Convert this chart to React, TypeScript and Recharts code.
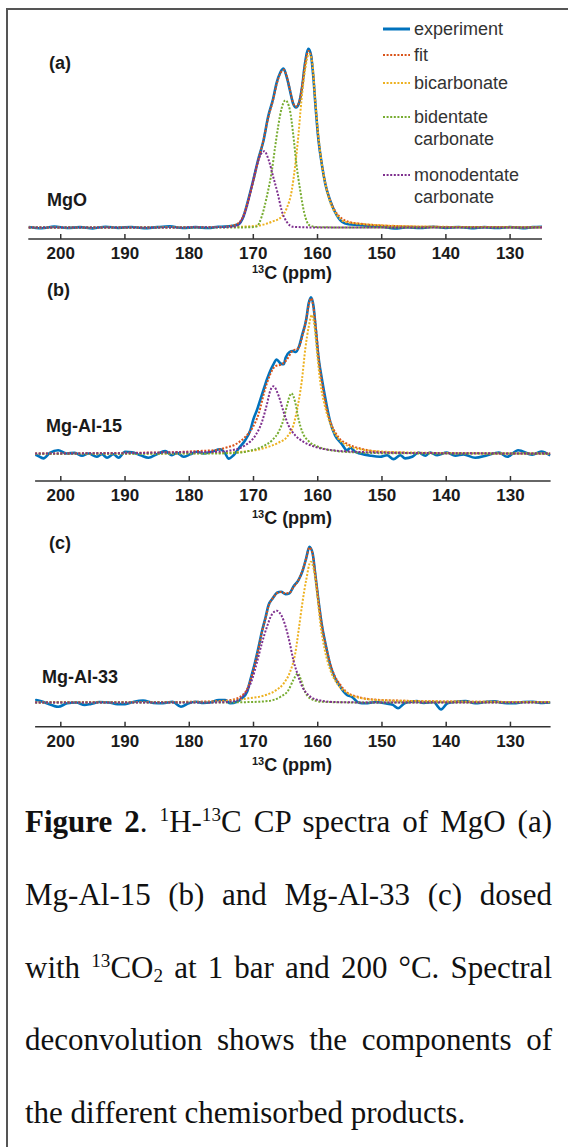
import { Line, LineChart, XAxis, YAxis } from 'recharts'

// [ppm, intensity] pairs; intensity is relative, tallest peak of each panel = 100
type Pt = [number, number]

const ppmTicks = [200, 190, 180, 170, 160, 150, 140, 130]

const seriesNames = ['experiment', 'fit', 'bicarbonate', 'bidentate', 'monodentate']
const seriesColors = ['#0072BD', '#D95319', '#EDB120', '#77AC30', '#7E2F8E']

// (a) MgO
const mgoExperiment: Pt[] = [
  [205, 0.3], [203, -0.4], [201, 0.5], [199, -0.3], [197, 0.2], [195, -0.5], [193, 0.4],
  [191, -0.2], [189, 0.3], [187, -0.4], [185, 0.2], [183, 0.6], [181, -0.3], [179, 0.2],
  [177, -0.3], [175.5, 0.4], [174.4, 0.5], [173.2, 1.0], [172.3, 1.8], [171.55, 6],
  [170.8, 15.3], [170.0, 26.5], [169.2, 38.5], [168.4, 48.7], [167.7, 61.7], [166.9, 72],
  [166.4, 80.3], [165.8, 86.5], [165.3, 88.7], [164.8, 84], [164.3, 76.6], [163.8, 69.2],
  [163.35, 67], [162.9, 69.2], [162.4, 78.4], [161.95, 91.5], [161.4, 99.8], [161.0, 96],
  [160.65, 84], [160.3, 67.3], [159.9, 50.6], [159.35, 35.8], [158.8, 24.6], [158.05, 15.3],
  [157.3, 8.8], [156.2, 3.2], [155.2, 1.8], [153.5, 1.4], [152, 0.8], [150, 0.5], [148, -0.6],
  [146, 0.2], [144, -0.3], [142, 0.4], [140, -0.2], [138, 0.3], [136, -0.4], [134, 0.2],
  [132, -0.3], [130, 0.3], [128, -0.4], [126.5, 0.2], [125, 0.4],
]
const mgoFit: Pt[] = [
  [205, 0], [180, 0.1], [175, 0.3], [173.5, 0.9], [172.3, 2.5], [171.55, 6.5], [170.8, 15],
  [170.0, 26], [169.2, 38], [168.4, 49], [167.7, 61], [166.9, 71.5], [166.4, 79.5], [165.8, 86],
  [165.3, 88], [164.8, 84.5], [164.3, 77], [163.8, 69.5], [163.35, 67.5], [162.9, 69.5],
  [162.4, 79], [161.95, 91], [161.4, 98.5], [161.0, 96], [160.65, 85], [160.3, 68], [159.9, 51],
  [159.35, 36], [158.8, 25], [158.05, 15.5], [157.3, 9.5], [156.2, 5], [155.2, 3.2], [153.5, 2.2],
  [152, 1.6], [150, 1.1], [147, 0.7], [143, 0.4], [138, 0.3], [130, 0.2], [125, 0.1],
]
const mgoBicarbonate: Pt[] = [
  [205, 0], [185, 0.1], [176, 0.3], [172.5, 0.4], [169.2, 1.1], [167.1, 3.2], [165.6, 6],
  [164.8, 10.7], [164.0, 20.9], [163.5, 33.9], [163.0, 50.6], [162.5, 71], [161.95, 87.7],
  [161.3, 97], [160.8, 91.5], [160.4, 72.9], [159.9, 52.5], [159.35, 35.8], [158.8, 24.6],
  [158.05, 14.4], [157.0, 7], [155.7, 3.2], [152.6, 1.8], [150, 1.2], [147, 0.8], [143, 0.5],
  [138, 0.3], [130, 0.2], [125, 0.1],
]
const mgoBidentate: Pt[] = [
  [205, 0], [175, 0], [170.5, 0.1], [169.5, 0.5], [168.7, 6], [167.9, 17.2], [167.1, 32],
  [166.6, 45], [166.1, 57.1], [165.6, 66.4], [165.0, 71], [164.3, 65.5], [163.8, 52.5],
  [163.3, 35.8], [162.7, 20.9], [162.05, 7.9], [161.2, 1.1], [159.9, 0.2], [155, 0], [125, 0],
]
const mgoMonodentate: Pt[] = [
  [205, 0], [175, 0.1], [172.85, 0.5], [171.8, 4.2], [171.0, 11.6], [170.25, 22.7],
  [169.5, 33.9], [168.8, 41], [168.3, 42.6], [167.6, 37.6], [166.9, 28.3], [166.2, 19],
  [165.6, 9.7], [164.8, 3.2], [163.8, 0.4], [160, 0], [125, 0],
]

// (b) Mg-Al-15
const al15Experiment: Pt[] = [
  [204, -0.5], [203.75, -0.8], [202.7, -2.8], [201.7, 0.7], [200.4, 2.4], [199.1, 0.3],
  [197.8, 0.7], [196.7, -1.1], [195.7, 0.3], [194.4, -1.8], [193.6, -0.2], [192.8, -2.4],
  [191.8, -0.2], [191.0, -2.4], [190.0, 1.4], [188.9, 1.0], [187.6, -0.8], [186.35, -2.4],
  [185.05, -0.2], [183.75, 1.8], [182.7, -0.8], [181.9, 0.7], [180.9, -1.8], [179.85, -0.2],
  [178.8, 1.4], [177.8, 0.3], [176.5, 1.4], [175.2, 3.0], [174.4, 0.3], [173.9, -3],
  [173.1, -0.8], [172.3, 3.5], [171.3, 8.7], [170.5, 15], [170.0, 22.3], [169.5, 27.5],
  [169.0, 33.8], [168.4, 41.3], [167.9, 47.5], [167.4, 52.8], [166.9, 57], [166.4, 60],
  [165.8, 57.5], [165.3, 57], [165.0, 61.2], [164.4, 64.8], [163.9, 65.4], [163.4, 64.8],
  [162.9, 68.6], [162.4, 76], [161.8, 85.4], [161.4, 95.9], [161.05, 99.6], [160.65, 93.7],
  [160.3, 79], [159.9, 62.1], [159.35, 47.5], [158.7, 32.8], [158.05, 20.2], [157.3, 11.8],
  [156.3, 6.6], [155.45, 2.4], [154.9, 3.9], [154.2, 1.4], [153.4, 0.3], [151.8, -1.1],
  [150.3, -1.8], [149.2, -0.8], [148.2, -3.3], [147.15, -0.8], [146.4, -2.8], [145.3, -1.8],
  [144.3, 0.9], [143.25, -1.1], [142.5, 0.9], [141.4, -0.8], [139.9, 0.9], [138.6, -1.1],
  [137.3, -0.3], [135.5, -2.4], [133.6, -0.8], [131.8, 0.9], [130.5, -1.8], [128.8, 2.4],
  [126.6, -0.5], [125.2, 1.6], [123.8, -1.0],
]
const al15Fit: Pt[] = [
  [204, 0.3], [195, 0.5], [188, 0.8], [182, 1.2], [178, 2], [176, 2.4], [174.4, 3.9],
  [172.85, 6], [171.3, 10.8], [170.25, 16], [169.2, 25.5], [168.2, 41.2], [167.4, 50.6],
  [166.6, 55.8], [165.6, 57], [164.8, 60], [164.0, 65.3], [163.0, 67.4], [162.4, 74.9],
  [161.8, 85.4], [161.3, 96.7], [161.0, 99], [160.65, 92.6], [160.2, 76.9], [159.8, 59],
  [159.25, 43.3], [158.6, 28.6], [157.8, 18.1], [156.8, 10.8], [155.2, 6], [153.4, 3.5],
  [151.4, 1.8], [148.7, 0.9], [145, 0.6], [140, 0.5], [130, 0.3], [123.8, 0.3],
]
const al15Bicarbonate: Pt[] = [
  [204, 0.1], [185, 0.3], [176, 0.6], [170.8, 1.8], [168.2, 3.9], [166.1, 7.2], [164.8, 10.8],
  [163.8, 18.1], [163.0, 32.8], [162.45, 47.5], [161.95, 66.4], [161.4, 81], [160.9, 88.4],
  [160.5, 81], [160.1, 64.3], [159.6, 45.4], [158.9, 30.7], [158.05, 19.2], [157.0, 10.8],
  [155.45, 5.5], [153.1, 2.8], [150, 1.5], [145, 0.9], [135, 0.4], [123.8, 0.2],
]
const al15Bidentate: Pt[] = [
  [204, 0.1], [185, 0.2], [176, 0.3], [173.4, 0.5], [170.8, 1.8], [168.7, 4.5], [167.1, 8.7],
  [166.1, 14], [165.3, 22.3], [164.8, 30.7], [164.1, 38.5], [163.5, 32.8], [163.0, 22.3],
  [162.4, 14], [161.4, 8.1], [159.9, 4.5], [157.3, 2], [153.1, 0.8], [150, 0.5], [140, 0.3],
  [123.8, 0.2],
]
const al15Monodentate: Pt[] = [
  [204, 0.3], [190, 0.5], [182, 1], [176, 1.3], [173.4, 2.4], [171.3, 5.5], [169.7, 11.8],
  [168.7, 20.2], [167.9, 31.8], [167.4, 40.1], [166.9, 43], [166.1, 37.1], [165.3, 26.5],
  [164.55, 18.1], [163.5, 11.8], [162.2, 7.7], [160.4, 4.5], [157.8, 2.4], [154.2, 1.4],
  [150, 0.9], [140, 0.5], [123.8, 0.3],
]

// (c) Mg-Al-33
const al33Experiment: Pt[] = [
  [204, 1.2], [203.85, 1.6], [202.5, 0], [200.4, -2.7], [199, -0.5], [197.6, 0], [196.3, -1.5],
  [195.4, -1], [194, 0.3], [192.5, 0], [191.2, -1], [190, -1], [188.6, 0.5], [187.2, 1.2],
  [185.6, -0.3], [184.1, -0.5], [182.6, 0.5], [181.3, -2.7], [180.1, -0.5], [179, 0.5],
  [177.8, -0.3], [176.75, 0], [175.4, 1.6], [174.4, 1.6], [173.6, -0.5], [172.6, 0.5],
  [171.8, 2.7], [171.0, 6.9], [170.5, 14.4], [169.8, 25.2], [169.2, 35.8], [168.7, 45.4],
  [168.1, 55.1], [167.65, 62.6], [167.0, 66.9], [166.35, 70.5], [165.7, 71.1], [165.0, 69.6],
  [164.4, 70.1], [163.8, 74.3], [163.0, 78.6], [162.4, 84], [161.8, 92.6], [161.3, 100],
  [160.8, 95.8], [160.4, 82.9], [159.9, 65.8], [159.4, 50.8], [158.7, 35.8], [158.05, 24.1],
  [157.4, 16.6], [156.5, 10.1], [155.45, 4.8], [154.7, 3.7], [153.6, -0.1], [152.6, -0.5],
  [151, 0.3], [149.5, -0.5], [148.3, -1.5], [147.5, -3.7], [146.5, -0.5], [145.5, 0.5],
  [144.6, 1.0], [143.5, -0.3], [142, 0.3], [140.8, -4.4], [139.8, -0.5], [138.5, 0.5],
  [137, 1.0], [135.5, -0.5], [134, 0.3], [132.5, 0.8], [131, -0.3], [129.5, -0.5], [128, 0.3],
  [126.5, 0.5], [125, -0.3], [123.8, 0],
]
const al33Fit: Pt[] = [
  [204, 0.2], [185, 0.3], [178, 0.6], [175, 1.0], [173.6, 1.6], [172.6, 2.6], [171.8, 4.5],
  [171.0, 8.5], [170.5, 14], [169.8, 24.5], [169.2, 35], [168.7, 45], [168.1, 54.5],
  [167.65, 62], [167.0, 67], [166.35, 70.2], [165.7, 71], [165.0, 70], [164.4, 70.5],
  [163.8, 74], [163.0, 78.6], [162.4, 84.5], [161.8, 92.5], [161.3, 99.5], [160.8, 95.5],
  [160.4, 83], [159.9, 66], [159.4, 51], [158.7, 36], [158.05, 25], [157.4, 17.5],
  [156.5, 11.5], [155.45, 6.5], [153.6, 3.5], [151.5, 2], [148, 1.3], [144, 0.9], [138, 0.6],
  [130, 0.4], [123.8, 0.3],
]
const al33Bicarbonate: Pt[] = [
  [204, 0.1], [185, 0.2], [176, 0.5], [170.8, 2.7], [168.1, 4.8], [166.6, 7.6], [165.3, 12.3],
  [164.3, 19.8], [163.5, 31.6], [162.9, 48.7], [162.4, 63.7], [161.8, 78.6], [161.1, 90.4],
  [160.55, 84], [160.1, 70.1], [159.6, 50.8], [158.9, 33.7], [158.05, 20.9], [157.0, 12.3],
  [155.45, 6.3], [153.1, 2.7], [150, 1.5], [145, 1], [135, 0.5], [123.8, 0.3],
]
const al33Bidentate: Pt[] = [
  [204, 0], [176, 0], [170.8, 0.3], [167.65, 1], [165.8, 3.7], [164.55, 8], [163.8, 14.4],
  [163.1, 18.7], [162.6, 14.4], [162.1, 8], [161.2, 2.7], [159.4, 0.5], [155, 0.1], [123.8, 0],
]
const al33Monodentate: Pt[] = [
  [204, 0], [176, 0.1], [174.4, 0.3], [172.85, 1], [171.3, 5.9], [170.25, 14.4], [169.5, 25.2],
  [168.7, 38], [167.9, 48.7], [167.1, 56.8], [166.35, 58.9], [165.7, 56.2], [165.0, 48.7],
  [164.4, 39], [163.8, 27.3], [163.1, 17.7], [162.4, 10.1], [161.45, 4.8], [159.9, 1.6],
  [157.3, 0.3], [150, 0], [123.8, 0],
]

// layout of the three stacked panels, in page pixels
const panels = [
  {
    tag: '(a)', sample: 'MgO',
    curves: [mgoExperiment, mgoFit, mgoBicarbonate, mgoBidentate, mgoMonodentate],
    top: 15, bottom: 239, left: 28.3, right: 542,
    xDomain: [125.03, 205.05], yDomain: [-6.42, 118.6],
    tagAt: [49, 63], sampleAt: [47, 200], titleY: 273,
  },
  {
    tag: '(b)', sample: 'Mg-Al-15',
    curves: [al15Experiment, al15Fit, al15Bicarbonate, al15Bidentate, al15Monodentate],
    top: 286, bottom: 481, left: 35.1, right: 550.6,
    xDomain: [123.75, 204.0], yDomain: [-17.2, 106.8],
    tagAt: [47, 290], sampleAt: [46, 426], titleY: 518,
  },
  {
    tag: '(c)', sample: 'Mg-Al-33',
    curves: [al33Experiment, al33Fit, al33Bicarbonate, al33Bidentate, al33Monodentate],
    top: 536, bottom: 726.7, left: 35.1, right: 550.6,
    xDomain: [123.75, 204.0], yDomain: [-15.5, 106.9],
    tagAt: [49, 543], sampleAt: [42, 677], titleY: 765,
  },
]

const sans = '"Liberation Sans", Arial, sans-serif'
const serif = '"Liberation Serif", "Times New Roman", serif'
const inkColor = '#1a1a1a'

const toRows = (pts: Pt[]) => pts.map(([ppm, i]) => ({ ppm, i }))

// MATLAB-style inward tick with a bold label under the axis line
function PpmTick(props: any) {
  const { x, y, payload } = props
  return (
    <g>
      <line x1={x} x2={x} y1={y} y2={y - 5} stroke="#333" strokeWidth={1.5} />
      <text
        x={x}
        y={y + 14.5}
        textAnchor="middle"
        dominantBaseline="central"
        fontFamily={sans}
        fontWeight={700}
        fontSize={17}
        fill={inkColor}
      >
        {payload.value}
      </text>
    </g>
  )
}

function Panel({ p }: { p: (typeof panels)[number] }) {
  const plotH = p.bottom - p.top
  return (
    <>
      <div style={{ position: 'absolute', left: 0, top: p.top }}>
        <LineChart
          width={568}
          height={plotH + 40}
          margin={{ top: 0, right: 568 - p.right, bottom: 0, left: p.left }}
        >
          <XAxis
            type="number"
            dataKey="ppm"
            domain={p.xDomain}
            reversed
            allowDataOverflow
            ticks={ppmTicks}
            interval={0}
            height={40}
            tickLine={false}
            tickSize={0}
            tickMargin={0}
            axisLine={{ stroke: '#333', strokeWidth: 1.5 }}
            tick={<PpmTick />}
          />
          <YAxis hide type="number" domain={p.yDomain} allowDataOverflow />
          {p.curves.map((pts, k) => (
            <Line
              key={seriesNames[k]}
              data={toRows(pts)}
              dataKey="i"
              name={seriesNames[k]}
              type="monotone"
              stroke={seriesColors[k]}
              strokeWidth={k === 0 ? 2.6 : 2}
              strokeDasharray={k === 0 ? undefined : '2 1.6'}
              dot={false}
              activeDot={false}
              isAnimationActive={false}
            />
          ))}
        </LineChart>
      </div>
      <div style={{ ...tagStyle, left: p.tagAt[0], top: p.tagAt[1] - 11 }}>{p.tag}</div>
      <div style={{ ...tagStyle, left: p.sampleAt[0], top: p.sampleAt[1] - 11 }}>{p.sample}</div>
      <div
        style={{
          ...tagStyle,
          left: 142,
          width: 300,
          textAlign: 'center',
          top: p.titleY - 11,
        }}
      >
        <span style={{ fontSize: 11, position: 'relative', top: -6 }}>13</span>C (ppm)
      </div>
    </>
  )
}

const tagStyle: React.CSSProperties = {
  position: 'absolute',
  fontFamily: sans,
  fontWeight: 700,
  fontSize: 18,
  lineHeight: '22px',
  color: inkColor,
  whiteSpace: 'nowrap',
}

const legendRows = [
  { lines: ['experiment'], y: 29 },
  { lines: ['fit'], y: 55 },
  { lines: ['bicarbonate'], y: 83 },
  { lines: ['bidentate', 'carbonate'], y: 117 },
  { lines: ['monodentate', 'carbonate'], y: 175 },
]

function SpectraLegend() {
  return (
    <>
      {legendRows.map((row, k) => (
        <div key={k}>
          <svg
            width={30}
            height={6}
            style={{ position: 'absolute', left: 382, top: row.y - 3 }}
          >
            <line
              x1={1}
              x2={28}
              y1={3}
              y2={3}
              stroke={seriesColors[k]}
              strokeWidth={k === 0 ? 3 : 2}
              strokeDasharray={k === 0 ? undefined : '2 1.6'}
            />
          </svg>
          {row.lines.map((text, j) => (
            <div
              key={j}
              style={{
                position: 'absolute',
                left: 414,
                top: row.y + j * 22 - 11,
                fontFamily: sans,
                fontSize: 18,
                lineHeight: '22px',
                color: '#333',
                whiteSpace: 'nowrap',
              }}
            >
              {text}
            </div>
          ))}
        </div>
      ))}
    </>
  )
}

const sup = (t: string) => (
  <span style={{ fontSize: '0.62em', position: 'relative', top: '-0.55em' }}>{t}</span>
)
const sub = (t: string) => (
  <span style={{ fontSize: '0.62em', position: 'relative', top: '0.25em' }}>{t}</span>
)

const captionLines = [
  <>
    <b>Figure 2</b>. {sup('1')}H-{sup('13')}C CP spectra of MgO (a)
  </>,
  <>Mg-Al-15 (b) and Mg-Al-33 (c) dosed</>,
  <>
    with {sup('13')}CO{sub('2')} at 1 bar and 200 °C. Spectral
  </>,
  <>deconvolution shows the components of</>,
  <>the different chemisorbed products.</>,
]
const captionY = [822, 895, 967.5, 1040, 1113]

export default function App() {
  return (
    <div
      style={{
        position: 'absolute',
        left: 0,
        top: 0,
        width: 568,
        height: 1147,
        overflow: 'hidden',
        background: '#fff',
      }}
    >
      <div
        style={{
          position: 'absolute',
          left: 6,
          top: 8,
          width: 580,
          height: 1160,
          borderLeft: '2px solid #555',
          borderTop: '2px solid #555',
        }}
      />
      {panels.map((p) => (
        <Panel key={p.tag} p={p} />
      ))}
      <SpectraLegend />
      {captionLines.map((line, k) => (
        <div
          key={k}
          style={{
            position: 'absolute',
            left: 25,
            width: 527,
            top: captionY[k] - 20,
            fontFamily: serif,
            fontSize: 31,
            lineHeight: '40px',
            color: '#111',
            textAlign: 'justify',
            textAlignLast: k === captionLines.length - 1 ? 'left' : 'justify',
          }}
        >
          {line}
        </div>
      ))}
    </div>
  )
}
